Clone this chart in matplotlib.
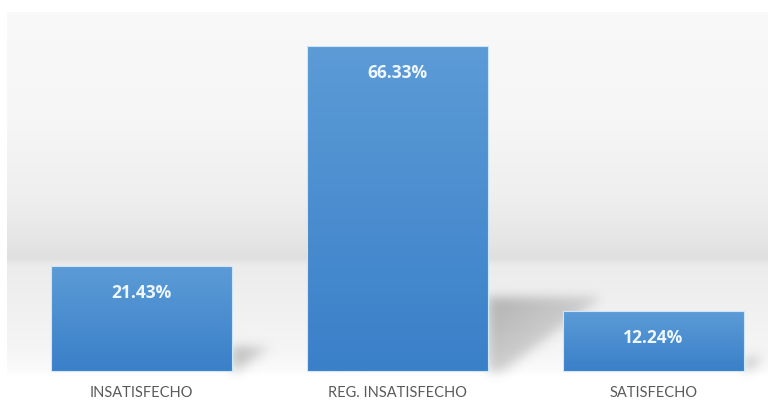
import numpy as np
import matplotlib
matplotlib.use("Agg")
import matplotlib.pyplot as plt
from matplotlib.colors import LinearSegmentedColormap

categories = ["INSATISFECHO", "REG. INSATISFECHO", "SATISFECHO"]
values = [21.43, 66.33, 12.24]
value_labels = ["21.43%", "66.33%", "12.24%"]

W, H = 768, 403
fig = plt.figure(figsize=(W / 100, H / 100), dpi=100)
ax = fig.add_axes([0, 0, 1, 1])

# data <-> pixel mapping: category spacing 256 px, 4.9 px per percent, baseline at 371 px
px_per_cat = 256.0
px_per_pct = 4.9
x0_px, base_px = 141.5, 371.0
xlim = ((0 - x0_px) / px_per_cat, (W - x0_px) / px_per_cat)
ylim = ((base_px - H) / px_per_pct, base_px / px_per_pct)
ax.set_xlim(*xlim)
ax.set_ylim(*ylim)
ax.axis("off")

def px2x(p):
    return (p - x0_px) / px_per_cat

def px2y(p):
    return (base_px - p) / px_per_pct

# background panel: wall darkening toward the horizon, lighter floor below it
stops_px = np.array([12, 120, 200, 245, 258, 266, 300, 350, 372, 376])
stops_v = np.array([0.975, 0.965, 0.935, 0.895, 0.875, 0.925, 0.94, 0.96, 0.985, 1.0])
rows = np.arange(12, 377)
col = np.interp(rows, stops_px, stops_v)
bg = np.repeat(col[:, None], 2, axis=1)
ax.imshow(np.dstack([bg, bg, bg]), extent=(px2x(7), xlim[1], px2y(376), px2y(12)),
          aspect="auto", origin="upper", zorder=0, interpolation="bilinear")

# soft cast shadows to the right of each bar
bar_w = 181 / px_per_cat
gy, gx = np.mgrid[0:H, 0:W]
mask = np.zeros((H, W))
for i, v in enumerate(values):
    h_px = v * px_per_pct
    xr = x0_px + i * px_per_cat + 181 / 2
    top = base_px - 0.23 * h_px
    reach = 0.35 * h_px
    inside = (gy >= top) & (gy <= base_px) & (gx >= xr)
    t = (gy - top) / max(base_px - top, 1)
    right = xr + reach * (1 - 0.88 * t)
    inside &= gx <= right
    strength = np.clip(1.0 - 0.45 * (gx - xr) / max(reach, 1) - 0.35 * t, 0.25, 1)
    mask = np.maximum(mask, inside * strength)

def blur(a, s):
    r = int(3 * s)
    k = np.exp(-0.5 * (np.arange(-r, r + 1) / s) ** 2)
    k /= k.sum()
    a = np.apply_along_axis(lambda m: np.convolve(m, k, mode="same"), 0, a)
    a = np.apply_along_axis(lambda m: np.convolve(m, k, mode="same"), 1, a)
    return a

mask = blur(mask, 5.5)
shadow = np.zeros((H, W, 4))
shadow[..., :3] = 0.45
shadow[..., 3] = np.clip(mask * 0.5, 0, 1)
ax.imshow(shadow, extent=(xlim[0], xlim[1], ylim[0], ylim[1]), aspect="auto",
          origin="upper", zorder=1, interpolation="bilinear")

# bars with a blue vertical gradient
x = np.arange(len(categories))
bars = ax.bar(x, values, width=bar_w, color="none", edgecolor="#cfe6fa",
              linewidth=0.8, zorder=3)
cmap = LinearSegmentedColormap.from_list("bluegrad", ["#3a80c9", "#5c9bd6"])
grad = np.linspace(0, 1, 256)[:, None]
for b in bars:
    im = ax.imshow(grad, cmap=cmap, extent=(b.get_x(), b.get_x() + b.get_width(), 0, b.get_height()),
                   aspect="auto", origin="lower", zorder=2, interpolation="bilinear")
    im.set_clip_path(b)

# value labels inside the bars
for b, lab in zip(bars, value_labels):
    ax.text(b.get_x() + b.get_width() / 2, b.get_height() - 27 / px_per_pct, lab,
            ha="center", va="center", fontsize=12.5, fontweight="bold",
            color="#eef7ff", family="Open Sans", zorder=4)

# category labels
for xi, c in zip(x, categories):
    ax.text(xi, px2y(393), c, ha="center", va="center", fontsize=10.5,
            color="#5a5a5a", family="Lato", zorder=4)

fig.savefig("out.png", dpi=100, facecolor="white")
